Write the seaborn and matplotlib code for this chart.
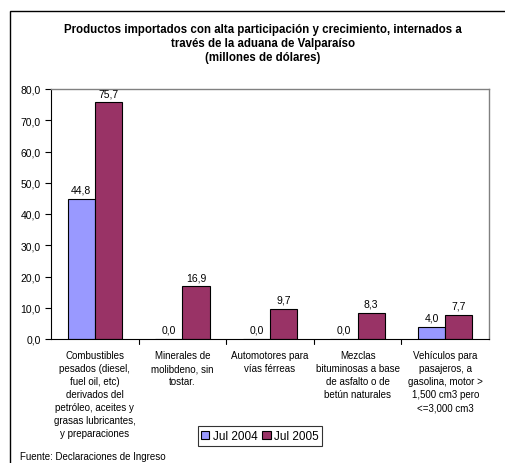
import pandas as pd
import matplotlib.pyplot as plt
import matplotlib.patches as mpatches
import seaborn as sns

categorias = [
    "Combustibles\npesados (diesel,\nfuel oil, etc)\nderivados del\npetróleo, aceites y\ngrasas lubricantes,\ny preparaciones",
    "Minerales de\nmolibdeno, sin\ntostar.",
    "Automotores para\nvías férreas",
    "Mezclas\nbituminosas a base\nde asfalto o de\nbetún naturales",
    "Vehículos para\npasajeros, a\ngasolina, motor >\n1,500 cm3 pero\n<=3,000 cm3",
]
jul_2004 = [44.8, 0.0, 0.0, 0.0, 4.0]
jul_2005 = [75.7, 16.9, 9.7, 8.3, 7.7]
series = ["Jul 2004", "Jul 2005"]
colores = ["#9999FF", "#993366"]

df = pd.DataFrame({
    "cat": categorias * 2,
    "serie": [series[0]] * 5 + [series[1]] * 5,
    "valor": jul_2004 + jul_2005,
})

sns.set_style("white")
plt.rcParams['font.family'] = ['Liberation Sans', 'DejaVu Sans']
plt.rcParams['text.color'] = 'black'
plt.rcParams['xtick.color'] = 'black'
plt.rcParams['ytick.color'] = 'black'

fig = plt.figure(figsize=(5.05, 4.64), dpi=100)
ax = fig.add_axes([51 / 505, 1 - 340 / 464, 438 / 505, 250 / 464])

sns.barplot(data=df, x="cat", y="valor", hue="serie", palette=colores,
            saturation=1, width=0.62, edgecolor="black", linewidth=0.8,
            ax=ax, legend=True)

for cont in ax.containers:
    labels = [f"{v:.1f}".replace(".", ",") for v in cont.datavalues]
    ax.bar_label(cont, labels=labels, padding=3, fontsize=7.5)

ax.set_ylim(0, 80)
ax.set_xlim(-0.5, 4.5)
ax.set_yticks(range(0, 81, 10))
ax.set_yticklabels([f"{v},0" for v in range(0, 81, 10)], fontsize=7.5)
ax.set_xticks(range(5))
ax.set_xticklabels(categorias, fontsize=7, linespacing=1.38, va="top")
ax.tick_params(axis="x", length=0, pad=8)
ax.tick_params(axis="y", length=4, direction="out", left=True, width=0.8)
for b in [0.5, 1.5, 2.5, 3.5]:
    ax.plot([b, b], [0, -1.5], color="black", lw=0.8, clip_on=False)
ax.set_xlabel("")
ax.set_ylabel("")

for s in ["top", "right"]:
    ax.spines[s].set_color("#808080")
    ax.spines[s].set_linewidth(1)
for s in ["left", "bottom"]:
    ax.spines[s].set_color("black")
    ax.spines[s].set_linewidth(0.8)

leg = ax.legend(loc="center", bbox_to_anchor=(260 / 505, 1 - 437 / 464),
                bbox_transform=fig.transFigure, ncol=2, fontsize=8.5,
                frameon=True, fancybox=False, handlelength=0.7, handleheight=0.7,
                handletextpad=0.3, columnspacing=0.4, borderpad=0.3)
leg.get_frame().set_edgecolor("black")
leg.get_frame().set_linewidth(0.8)

fig.text(263 / 505, 1 - 44 / 464,
         "Productos importados con alta participación y crecimiento, internados a\n"
         "través de la aduana de Valparaíso\n(millones de dólares)",
         ha="center", va="center", fontsize=8.3, fontweight="bold", linespacing=1.2)

fig.text(20 / 505, 1 - 457 / 464, "Fuente: Declaraciones de Ingreso",
         ha="left", va="center", fontsize=7)

fig.patches.append(mpatches.Rectangle((10 / 505, -0.1), 1.0, 1 - 12 / 464 + 0.1,
                                      transform=fig.transFigure, fill=False,
                                      edgecolor="black", linewidth=1))

fig.savefig("out.png", dpi=100)
